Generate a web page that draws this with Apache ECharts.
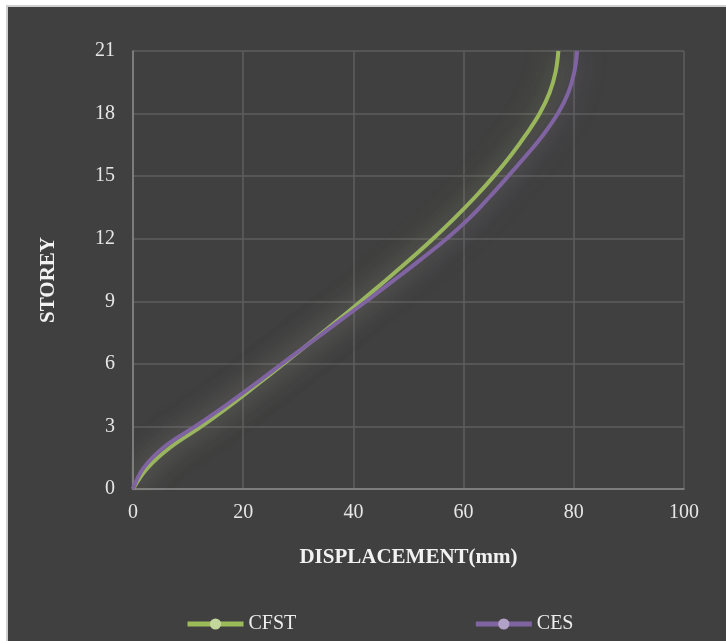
<!DOCTYPE html>
<html>
<head>
<meta charset="utf-8">
<script src="https://cdn.jsdelivr.net/npm/echarts@6/dist/echarts.min.js"></script>
<style>
html,body{margin:0;padding:0;background:#ffffff;}
#frame{position:absolute;left:6px;top:5px;width:720px;height:636px;border-left:2px solid #cfcfcf;border-top:2px solid #cfcfcf;box-sizing:border-box;}
#chart{position:absolute;left:8px;top:7px;width:718px;height:634px;}
</style>
</head>
<body>
<div id="frame"></div>
<div id="chart"></div>
<script>
const storeys = [0,1,2,3,4,5,6,7,8,9,10,11,12,13,14,15,16,17,18,19,20,21];
const cfst = [0,2.6,6.8,12.4,17.6,22.5,27.3,32.05,36.75,41.35,45.85,50.25,54.45,58.4,62.1,65.5,68.6,71.35,73.8,75.6,76.7,77.2];
const ces  = [0,1.9,5.6,11.3,16.8,22.0,27.0,32.1,37.2,42.3,47.3,52.2,56.9,61.1,64.7,68.1,71.4,74.5,77.1,79.0,80.1,80.6];
const xTicks = [0,20,40,60,80,100];
const yTicks = [0,3,6,9,12,15,18,21];
const seriesNames = ['CFST','CES'];
const xTitle = 'DISPLACEMENT(mm)';
const yTitle = 'STOREY';

const chart = echarts.init(document.getElementById('chart'));
const font = '"Liberation Serif","Times New Roman",serif';
function pairs(vals){ return vals.map((v,i)=>[v, storeys[i]]); }

chart.setOption({
  backgroundColor:'#404040',
  animation:false,
  textStyle:{fontFamily:font},
  grid:{left:125,right:42,top:44,bottom:152,containLabel:false},
  legend:{
    data:seriesNames,
    left:177, top:607, padding:0,
    itemWidth:56, itemHeight:14, itemGap:177,
    lineStyle:{width:5},
    textStyle:{color:'#eeeeee',fontSize:20,fontFamily:font}
  },
  graphic:[{
    type:'text', x:41, y:273, rotation:Math.PI/2,
    style:{text:yTitle, font:'bold 21px '+font, fill:'#f2f2f2', textAlign:'center', textVerticalAlign:'middle'}
  }],
  xAxis:{
    type:'value', min:xTicks[0], max:xTicks[xTicks.length-1], interval:xTicks[1]-xTicks[0],
    name:xTitle, nameLocation:'middle', nameGap:58,
    nameTextStyle:{color:'#f2f2f2',fontSize:21,fontWeight:'bold',fontFamily:font},
    axisLine:{show:true,lineStyle:{color:'#8a8a8a',width:1.5}},
    axisTick:{show:false},
    axisLabel:{color:'#e6e6e6',fontSize:20,fontFamily:font,margin:14},
    splitLine:{show:true,lineStyle:{color:'#5e5e5e',width:1.5}}
  },
  yAxis:{
    type:'value', min:yTicks[0], max:yTicks[yTicks.length-1], interval:yTicks[1]-yTicks[0],
    axisLine:{show:true,lineStyle:{color:'#8a8a8a',width:1.5}},
    axisTick:{show:false},
    axisLabel:{color:'#e6e6e6',fontSize:20,fontFamily:font,margin:18},
    splitLine:{show:true,lineStyle:{color:'#5e5e5e',width:1.5}}
  },
  series:[
    {name:seriesNames[0], type:'line', data:pairs(cfst), smooth:0.4, showSymbol:false, symbol:'circle', symbolSize:9,
     itemStyle:{color:'#c3d69b'},
     lineStyle:{color:'#9bbb59',width:4,shadowBlur:26,shadowColor:'rgba(175,200,110,0.6)'}},
    {name:seriesNames[1], type:'line', data:pairs(ces), smooth:0.4, showSymbol:false, symbol:'circle', symbolSize:9,
     itemStyle:{color:'#b3a2c7'},
     lineStyle:{color:'#8064a2',width:4,shadowBlur:26,shadowColor:'rgba(140,115,175,0.6)'}}
  ]
});
</script>
</body>
</html>
